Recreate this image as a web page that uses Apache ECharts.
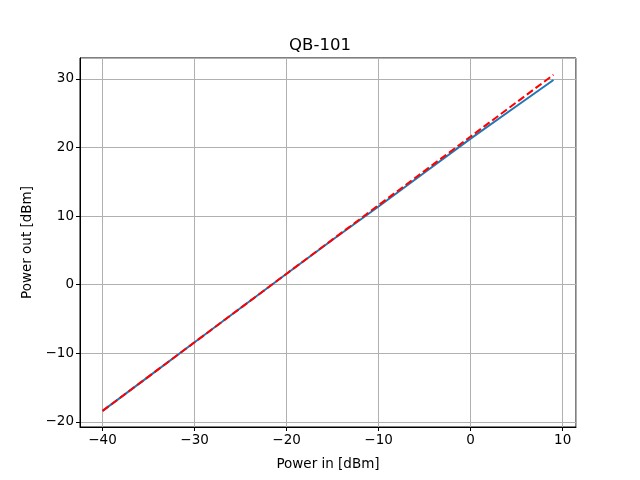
<!DOCTYPE html>
<html>
<head>
<meta charset="utf-8">
<script src="https://cdn.jsdelivr.net/npm/echarts@6/dist/echarts.min.js"></script>
<style>
  html, body { margin: 0; padding: 0; background: #fff; }
  #chart { width: 640px; height: 480px; }
</style>
</head>
<body>
<div id="chart"></div>
<script>
// input power sweep, dBm
var powerIn = [-40, -35, -30, -25, -20, -15, -10, -5, 0, 5, 9];
// measured output (blue)
var powerOutMeasured = [-18.4, -13.4, -8.4, -3.4, 1.6, 6.55, 11.4, 16.35, 21.3, 26.05, 29.85];
// linear-gain reference (red dashed)
var powerOutLinear = [-18.4, -13.4, -8.4, -3.4, 1.6, 6.6, 11.6, 16.6, 21.6, 26.6, 30.6];

function pairs(xs, ys) {
    return xs.map(function (x, i) { return [x, ys[i]]; });
}
function minus(v) {
    return String(v).replace('-', '\u2212');
}

var font = 'DejaVu Sans';
var chart = echarts.init(document.getElementById('chart'));
var option = {
    backgroundColor: '#fff',
    animation: false,
    title: {
        text: 'QB-101',
        left: 'center',
        top: 32,
        textStyle: { fontFamily: font, fontSize: 16.5, fontWeight: 'normal', color: '#000' }
    },
    grid: {
        left: 80, right: 64, top: 58, bottom: 53,
        show: true, borderColor: '#000', borderWidth: 1
    },
    xAxis: {
        type: 'value',
        min: -42.45,
        max: 11.45,
        splitNumber: 5,
        name: 'Power in [dBm]',
        nameLocation: 'middle',
        nameGap: 30,
        nameTextStyle: { fontFamily: font, fontSize: 13.5, color: '#000' },
        axisLine: { show: true, onZero: false, lineStyle: { color: '#000' } },
        axisTick: { show: true, inside: false, length: 4, lineStyle: { color: '#000' } },
        axisLabel: {
            fontFamily: font, fontSize: 13.5, color: '#000', margin: 6,
            showMinLabel: false, showMaxLabel: false,
            formatter: minus
        },
        splitLine: { show: true, lineStyle: { color: '#b0b0b0', width: 1 } }
    },
    yAxis: {
        type: 'value',
        min: -20.75,
        max: 33.05,
        splitNumber: 5,
        name: 'Power out [dBm]',
        nameLocation: 'middle',
        nameGap: 46,
        nameTextStyle: { fontFamily: font, fontSize: 13.5, color: '#000' },
        axisLine: { show: true, onZero: false, lineStyle: { color: '#000' } },
        axisTick: { show: true, inside: false, length: 4, lineStyle: { color: '#000' } },
        axisLabel: {
            fontFamily: font, fontSize: 13.5, color: '#000', margin: 6,
            showMinLabel: false, showMaxLabel: false,
            formatter: minus
        },
        splitLine: { show: true, lineStyle: { color: '#b0b0b0', width: 1 } }
    },
    series: [{
        type: 'line',
        data: pairs(powerIn, powerOutMeasured),
        showSymbol: false,
        lineStyle: { color: '#1f77b4', width: 2 },
        z: 2
    }, {
        type: 'line',
        data: pairs(powerIn, powerOutLinear),
        showSymbol: false,
        lineStyle: { color: '#ff0000', width: 2, type: [7.5, 3.3] },
        z: 3
    }]
};
chart.setOption(option);
</script>
</body>
</html>
